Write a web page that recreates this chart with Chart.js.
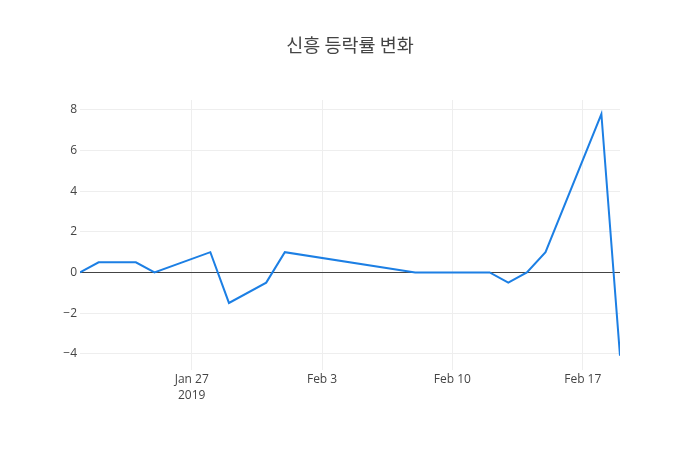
<!DOCTYPE html>
<html>
<head>
<meta charset="utf-8">
<script src="https://cdn.jsdelivr.net/npm/chart.js@4/dist/chart.umd.min.js"></script>
<style>
  html, body { margin: 0; padding: 0; background: #fff; }
</style>
</head>
<body>
<canvas id="chart" width="700" height="450"></canvas>
<script>
// trading days and change rate (%)
const dates = ['2019-01-21', '2019-01-22', '2019-01-23', '2019-01-24', '2019-01-25',
               '2019-01-28', '2019-01-29', '2019-01-31', '2019-02-01',
               '2019-02-08', '2019-02-11', '2019-02-12', '2019-02-13', '2019-02-14',
               '2019-02-15', '2019-02-18', '2019-02-19'];
const changes = [0, 0.5, 0.5, 0.5, 0,
                 1, -1.5, -0.5, 1,
                 0, 0, 0, -0.5, 0,
                 1, 7.8, -4.1];

const xTickDates = ['2019-01-27', '2019-02-03', '2019-02-10', '2019-02-17'];
const xTickLabels = [['Jan 27', '2019'], 'Feb 3', 'Feb 10', 'Feb 17'];
const yTicks = [-4, -2, 0, 2, 4, 6, 8];

const title = '신흥 등락률 변화';

//-------------------------------------------------//

// days since first date, so a linear scale can stand in for a time axis
const base = Date.UTC(2019, 0, 21);
function dayNum(s) {
    const p = s.split('-').map(Number);
    return (Date.UTC(p[0], p[1] - 1, p[2]) - base) / 86400000;
}

const points = dates.map((d, i) => ({ x: dayNum(d), y: changes[i] }));
const xTickDays = xTickDates.map(dayNum);

const font = "'Open Sans', 'Noto Sans', sans-serif";

const ctx = document.getElementById('chart').getContext('2d');
const chart = new Chart(ctx, {
    type: 'line',
    data: {
        datasets: [{
            data: points,
            borderColor: '#1c7fe4',
            borderWidth: 2,
            pointRadius: 0,
            tension: 0,
            fill: false
        }]
    },
    options: {
        responsive: false,
        animation: false,
        layout: { padding: 0 },
        plugins: {
            legend: { display: false },
            tooltip: { enabled: false },
            title: {
                display: true,
                text: title,
                color: '#444',
                font: { family: "'Noto Sans CJK KR', " + font, size: 18.5, weight: 'normal', lineHeight: 1.2 },
                padding: { top: 34, bottom: 43.8 }
            }
        },
        scales: {
            x: {
                type: 'linear',
                min: dayNum(dates[0]),
                max: dayNum(dates[dates.length - 1]),
                afterBuildTicks: s => { s.ticks = xTickDays.map(v => ({ value: v })); },
                afterFit: s => { s.height = 80; },
                ticks: {
                    autoSkip: false,
                    maxRotation: 0,
                    padding: 1,
                    color: '#444',
                    font: { family: font, size: 12, lineHeight: 1.35 },
                    callback: v => xTickLabels[xTickDays.indexOf(v)]
                },
                grid: { color: '#eee', lineWidth: 1, drawTicks: false },
                border: { display: false }
            },
            y: {
                min: -4.8,
                max: 8.49,
                afterBuildTicks: s => { s.ticks = yTicks.map(v => ({ value: v })); },
                afterFit: s => { s.width = 80; },
                ticks: {
                    padding: 3,
                    color: '#444',
                    font: { family: font, size: 12 },
                    callback: v => String(v).replace('-', '\u2212')
                },
                grid: {
                    color: c => (c.tick && c.tick.value === 0) ? '#444' : '#eee',
                    lineWidth: 1,
                    drawTicks: false
                },
                border: { display: false }
            },
            // empty right margin, keeps the title centred on the page
            right: {
                position: 'right',
                afterFit: s => { s.width = 80; },
                ticks: { display: false },
                grid: { display: false },
                border: { display: false }
            }
        }
    }
});
</script>
</body>
</html>
